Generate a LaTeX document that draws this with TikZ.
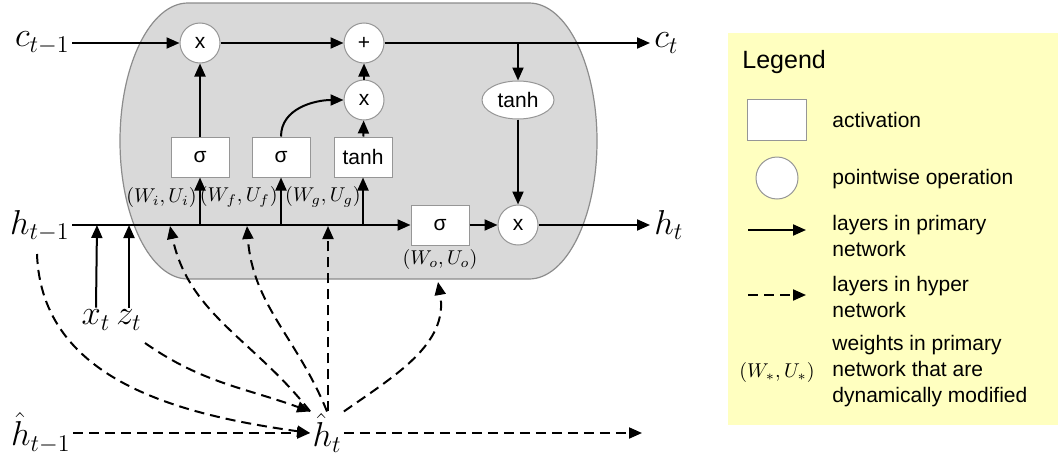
\documentclass[tikz,border=0pt]{standalone}
\usepackage{fontspec}
\setmainfont{Liberation Sans}
\usetikzlibrary{arrows.meta,shapes.geometric}
\definecolor{cellfill}{RGB}{217,217,217}
\definecolor{cellborder}{RGB}{140,140,140}
\definecolor{legendfill}{RGB}{255,255,192}
\definecolor{boxborder}{RGB}{150,150,150}
\begin{document}
\begin{tikzpicture}[x=0.5pt,y=0.5pt,
  arr/.style={line width=1pt,-{Triangle[length=6.5pt,width=5.5pt]}},
  darr/.style={arr,dash pattern=on 5pt off 3pt},
  op/.style={circle,draw=boxborder,line width=0.5pt,fill=white,minimum size=20pt,inner sep=0pt,font=\fontsize{10.5}{12}\selectfont},
  act/.style={rectangle,draw=boxborder,line width=0.5pt,fill=white,minimum width=29pt,minimum height=20pt,inner sep=0pt,font=\fontsize{10.5}{12}\selectfont},
  lab/.style={font=\fontsize{17}{20}\selectfont,inner sep=1pt},
  wlab/.style={font=\fontsize{10}{12}\selectfont,inner sep=0pt},
  leg/.style={font=\fontsize{10.5}{13}\selectfont,align=left,anchor=west,inner sep=0pt}]
\useasboundingbox (0,0) rectangle (1058,-455);
% cell
\path[fill=cellfill,draw=cellborder,line width=0.6pt] (188,-3) -- (529,-3)
  arc[start angle=90,end angle=-90,x radius=34pt,y radius=69pt] -- (188,-279)
  arc[start angle=270,end angle=90,x radius=34pt,y radius=69pt] -- cycle;
% nodes
\node[lab,anchor=east] (cin) at (72,-43) {$c_{t-1}$};
\node[op] (m1) at (200,-43) {x};
\node[op] (add) at (364,-43) {+};
\node[op] (m2) at (364,-100) {x};
\node[ellipse,draw=boxborder,line width=0.5pt,fill=white,minimum width=36pt,minimum height=19pt,inner sep=0pt,font=\fontsize{10.5}{12}\selectfont] (th) at (518,-100) {tanh};
\node[op] (m3) at (518,-225) {x};
\node[act] (s1) at (200,-157) {σ};
\node[act] (s2) at (281,-157) {σ};
\node[act] (tb) at (363,-157) {tanh};
\node[act] (so) at (440,-225) {σ};
\node[lab,anchor=west] (cout) at (652,-43) {$c_t$};
\node[lab,anchor=east] (hin) at (72,-226) {$h_{t-1}$};
\node[lab,anchor=west] (hout) at (652,-225) {$h_t$};
\node[lab] (xt) at (96,-320) {$x_t$};
\node[lab] (zt) at (129,-320) {$z_t$};
\node[lab] (hh) at (327,-433) {$\hat h_t$};
\node[lab,anchor=east] (hhin) at (73,-433) {$\hat h_{t-1}$};
\node[wlab,anchor=east] (wi) at (197,-197) {$(W_i,U_i)$};
\node[wlab,anchor=east] (wf) at (278,-197) {$(W_f,U_f)$};
\node[wlab,anchor=east] (wg) at (361,-197) {$(W_g,U_g)$};
\node[wlab] (wo) at (440,-259) {$(W_o,U_o)$};
% coordinates
\coordinate (hs) at (72,-225);
\coordinate (j1) at (518,-43);
\coordinate (b1) at (200,-225);
\coordinate (b2) at (281,-225);
\coordinate (b3) at (363,-225);
\coordinate (bx) at (97,-225);
\coordinate (bz) at (129,-225);
\coordinate (d1) at (170,-226);
\coordinate (d2) at (247,-226);
\coordinate (d3) at (328,-226);
\coordinate (d4) at (438,-282);
\coordinate (hd) at (37,-254);
\coordinate (zd) at (145,-343);
\coordinate (cend) at (650,-43);
\coordinate (hend) at (650,-225);
\coordinate (hhend) at (642,-433);
% primary network
\draw[arr] (cin.east |- m1) -- (m1);
\draw[arr] (m1) -- (add);
\draw[arr] (add) -- (cend);
\draw[arr] (j1) -- (th);
\draw[arr] (th) -- (m3);
\draw[arr] (m3) -- (hend);
\draw[arr] (hs) -- (so);
\draw[arr] (so) -- (m3);
\draw[arr] (b1) -- (s1);
\draw[arr] (b2) -- (s2);
\draw[arr] (b3) -- (tb);
\draw[arr] (s1) -- (m1);
\draw[arr] (s2.north) to[out=90,in=180] (m2.west);
\draw[arr] (tb) -- (m2);
\draw[arr] (m2) -- (add);
\draw[arr] (xt.north) -- (bx);
\draw[arr] (zt.north -| bz) -- (bz);
% hyper network
\draw[darr] (hhin.east |- hh) -- (hh.west);
\draw[darr] (hd) to[out=-88,in=172] (hh.west);
\draw[darr] (zd) to[out=-35,in=160] (hh.north west);
\draw[darr] (hh.north west) to[out=128,in=-78] (d1);
\draw[darr] (hh.north) to[out=112,in=-86] (d2);
\draw[darr] (hh.north -| d3) -- (d3);
\draw[darr] (hh.north east) to[out=35,in=-80] (d4);
\draw[darr] (hh.east) -- (hhend);
% legend
\node[fill=legendfill,minimum width=165pt,minimum height=196pt,anchor=north west,inner sep=0pt] (leg) at (728,-33) {};
\node[anchor=west,inner sep=0pt,font=\fontsize{12.5}{15}\selectfont] (lt) at (742,-62) {Legend};
\node[act,minimum width=29.5pt,minimum height=20.5pt] (lbox) at (777,-120) {};
\node[op,minimum size=21pt] (lcirc) at (777,-178) {};
\coordinate (la1) at (748,-230);
\coordinate (la2) at (806,-230);
\coordinate (lb1) at (748,-295);
\coordinate (lb2) at (806,-295);
\draw[arr] (la1) -- (la2);
\draw[darr] (lb1) -- (lb2);
\node[wlab] (lw) at (777,-372) {$(W_*,U_*)$};
\node[leg] (t1) at (832,-120) {activation};
\node[leg] (t2) at (832,-179) {pointwise operation};
\node[leg] (t3) at (832,-236) {layers in primary\\network};
\node[leg] (t4) at (832,-297) {layers in hyper\\network};
\node[leg] (t5) at (832,-371) {weights in primary\\network that are\\dynamically modified};
\end{tikzpicture}
\end{document}
